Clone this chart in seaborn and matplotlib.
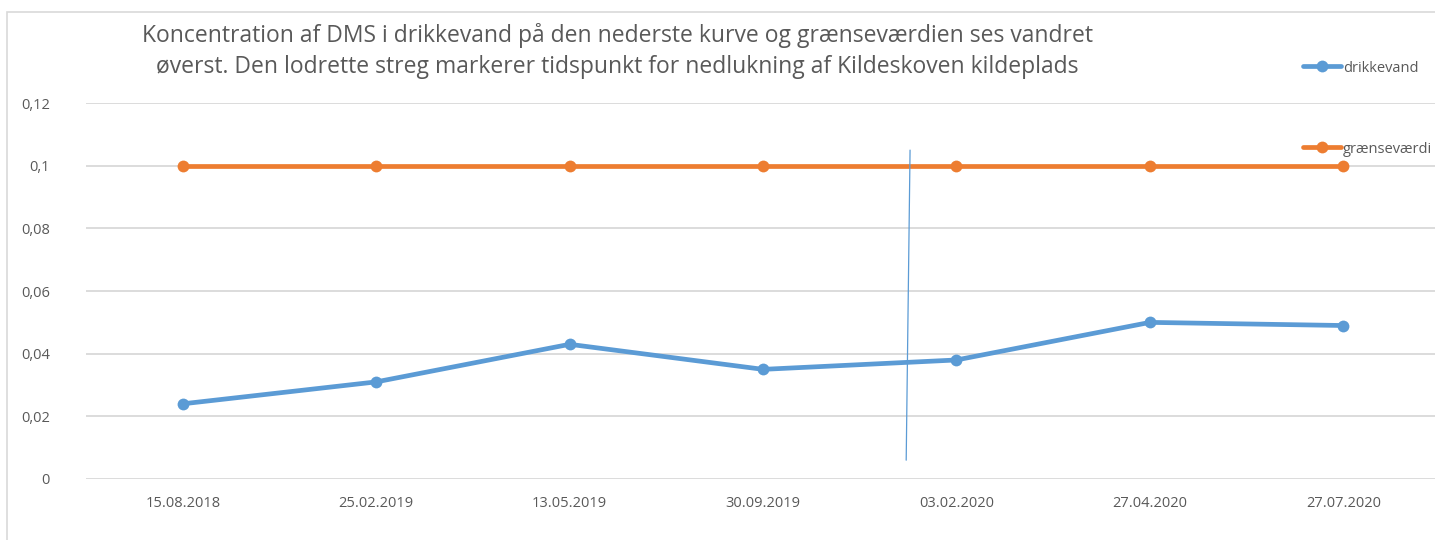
import pandas as pd
import matplotlib
matplotlib.use("Agg")
import matplotlib.pyplot as plt
import matplotlib.patches as mpatches
from matplotlib.ticker import FuncFormatter
import seaborn as sns

sns.set_style("white")
plt.rcParams['font.family'] = ['Open Sans', 'DejaVu Sans']

# Data
datoer = ["15.08.2018", "25.02.2019", "13.05.2019", "30.09.2019",
          "03.02.2020", "27.04.2020", "27.07.2020"]
drikkevand = [0.024, 0.031, 0.043, 0.035, 0.038, 0.050, 0.049]
graensevaerdi = [0.1, 0.1, 0.1, 0.1, 0.1, 0.1, 0.1]
yticks = [0, 0.02, 0.04, 0.06, 0.08, 0.1, 0.12]

# nedlukning markering (håndtegnet streg, lidt skæv)
streg_x = [3.76, 3.74]
streg_y = [0.105, 0.006]

df = pd.DataFrame({
    "dato": datoer * 2,
    "vaerdi": drikkevand + graensevaerdi,
    "serie": ["drikkevand"] * len(datoer) + ["grænseværdi"] * len(datoer),
})

farver = {"drikkevand": "#5B9BD5", "grænseværdi": "#ED7D31"}
tekstfarve = "#595959"

fig = plt.figure(figsize=(14.35, 5.4), dpi=100)
ax = fig.add_axes([0.060, 0.113, 0.9435, 0.696])

sns.lineplot(data=df, x="dato", y="vaerdi", hue="serie", palette=farver,
             marker="o", markersize=8.5, markeredgewidth=0, linewidth=3.4,
             sort=False, legend=False, ax=ax)

ax.plot(streg_x, streg_y, color="#5B9BD5", linewidth=0.9)

ax.set_xlim(-0.5, len(datoer) - 0.5)
ax.set_ylim(0, 0.12)
ax.set_yticks(yticks)
ax.yaxis.set_major_formatter(FuncFormatter(lambda v, p: f"{v:g}".replace(".", ",")))
ax.grid(axis="y", color="#D9D9D9", linewidth=1.3)
ax.set_axisbelow(True)
for s in ax.spines.values():
    s.set_visible(False)
ax.tick_params(axis="both", length=0, labelsize=10.5, colors=tekstfarve)
ax.tick_params(axis="y", pad=26)
ax.tick_params(axis="x", pad=12)
ax.set_xlabel("")
ax.set_ylabel("")

fig.text(0.43, 0.958,
         "Koncentration af DMS i drikkevand på den nederste kurve og grænseværdien ses vandret\n"
         "øverst. Den lodrette streg markerer tidspunkt for nedlukning af Kildeskoven kildeplads",
         ha="center", va="top", fontsize=16.5, color=tekstfarve, linespacing=1.38)

# legende
for navn, ypos in [("drikkevand", 0.874), ("grænseværdi", 0.724)]:
    fig.legend(handles=[plt.Line2D([], [], color=farver[navn], marker="o", markersize=8.5,
                                   markeredgewidth=0, linewidth=3.4)],
               labels=[navn], loc="center left", bbox_to_anchor=(0.908, ypos),
               frameon=False, handlelength=2.6, handletextpad=0.15,
               fontsize=10.5, labelcolor=tekstfarve, borderaxespad=0, borderpad=0)

# ramme
fig.patches.append(mpatches.Rectangle((7 / 1435, -0.1), 1.2, 1 - 12 / 540 + 0.1,
                                      transform=fig.transFigure, fill=False,
                                      edgecolor="#D9D9D9", linewidth=1.2))

fig.savefig("out.png", dpi=100)
